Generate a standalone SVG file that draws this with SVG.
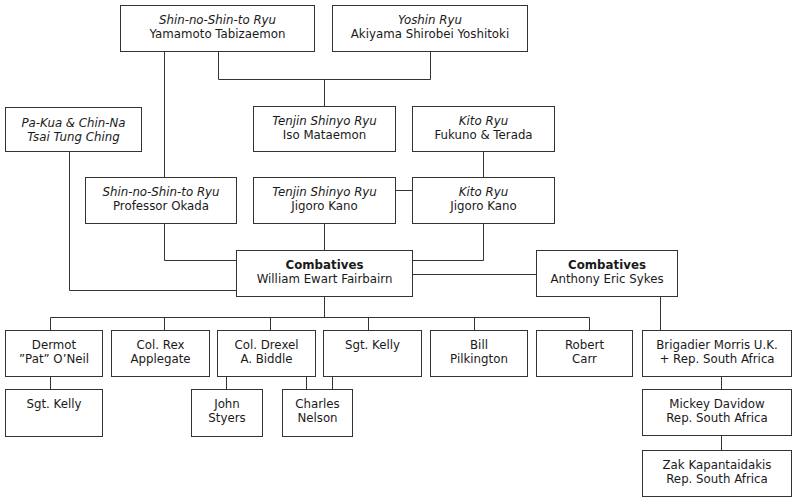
<svg xmlns="http://www.w3.org/2000/svg" width="800" height="503" viewBox="0 0 800 503">
<style>
rect{fill:#fff;stroke:#333;stroke-width:1}
.c path{fill:none;stroke:#333;stroke-width:1}
text{font-family:"DejaVu Sans","Liberation Sans",sans-serif;font-size:11.8px;fill:#1a1a1a;text-anchor:middle}
.i{font-style:italic}
.b{font-weight:bold}
</style>
<rect x="0" y="0" width="800" height="503" style="stroke:none"/>
<g class="c">
<path d="M218.5 51.5V79.5H430.5V51.5"/>
<path d="M324.5 79.5V106.5"/>
<path d="M164.5 51.5V177.5"/>
<path d="M69.5 151.5V290.5H236.5"/>
<path d="M483.5 151.5V177.5"/>
<path d="M395.5 190.5H412.5"/>
<path d="M164.5 223.5V260.5H236.5"/>
<path d="M324.5 223.5V250.5"/>
<path d="M483.5 223.5V260.5H412.5"/>
<path d="M412.5 274.5H536.5"/>
<path d="M660.5 296.5V330.5"/>
<path d="M324.5 296.5V317.5"/>
<path d="M50.5 330.5V317.5H589.5V330.5"/>
<path d="M164.5 317.5V330.5M270.5 317.5V330.5M368.5 317.5V330.5M474.5 317.5V330.5"/>
<path d="M50.5 376.5V389.5M226.5 376.5V389.5M306.5 376.5V389.5M332.5 376.5V389.5"/>
<path d="M721.5 376.5V389.5M721.5 435.5V450.5"/>
</g>
<g id="shin1"><rect x="120.5" y="5.5" width="194" height="46"/><text x="217.5" y="24" class="i">Shin-no-Shin-to Ryu</text><text x="217.5" y="38">Yamamoto Tabizaemon</text></g>
<g id="yoshin"><rect x="332.5" y="5.5" width="195" height="46"/><text x="430" y="24" class="i">Yoshin Ryu</text><text x="430" y="38">Akiyama Shirobei Yoshitoki</text></g>
<g id="pakua"><rect x="5.5" y="107.5" width="136" height="44"/><text x="73.5" y="127" class="i">Pa-Kua &amp; Chin-Na</text><text x="73.5" y="140.5" class="i">Tsai Tung Ching</text></g>
<g id="tenjin1"><rect x="253.5" y="106.5" width="142" height="45"/><text x="324.5" y="125" class="i">Tenjin Shinyo Ryu</text><text x="324.5" y="139">Iso Mataemon</text></g>
<g id="kito1"><rect x="412.5" y="106.5" width="142" height="45"/><text x="483.5" y="125" class="i">Kito Ryu</text><text x="483.5" y="139">Fukuno &amp; Terada</text></g>
<g id="okada"><rect x="85.5" y="177.5" width="151" height="46"/><text x="161" y="196" class="i">Shin-no-Shin-to Ryu</text><text x="161" y="210">Professor Okada</text></g>
<g id="tenjin2"><rect x="253.5" y="177.5" width="142" height="46"/><text x="324.5" y="196" class="i">Tenjin Shinyo Ryu</text><text x="324.5" y="210">Jigoro Kano</text></g>
<g id="kito2"><rect x="412.5" y="177.5" width="142" height="46"/><text x="483.5" y="196" class="i">Kito Ryu</text><text x="483.5" y="210">Jigoro Kano</text></g>
<g id="fairbairn"><rect x="236.5" y="250.5" width="176" height="46"/><text x="324.5" y="269" class="b">Combatives</text><text x="324.5" y="283">William Ewart Fairbairn</text></g>
<g id="sykes"><rect x="536.5" y="250.5" width="141" height="46"/><text x="607" y="269" class="b">Combatives</text><text x="607" y="283">Anthony Eric Sykes</text></g>
<g id="dermot"><rect x="5.5" y="330.5" width="97" height="46"/><text x="54" y="349">Dermot</text><text x="54" y="363">”Pat” O’Neil</text></g>
<g id="rex"><rect x="111.5" y="330.5" width="98" height="46"/><text x="160.5" y="349">Col. Rex</text><text x="160.5" y="363">Applegate</text></g>
<g id="drexel"><rect x="217.5" y="330.5" width="98" height="46"/><text x="266.5" y="349">Col. Drexel</text><text x="266.5" y="363">A. Biddle</text></g>
<g id="kelly"><rect x="323.5" y="330.5" width="98" height="46"/><text x="372.5" y="349">Sgt. Kelly</text></g>
<g id="bill"><rect x="430.5" y="330.5" width="97" height="46"/><text x="479" y="349">Bill</text><text x="479" y="363">Pilkington</text></g>
<g id="robert"><rect x="536.5" y="330.5" width="96" height="46"/><text x="584.5" y="349">Robert</text><text x="584.5" y="363">Carr</text></g>
<g id="brigadier"><rect x="642.5" y="330.5" width="149" height="46"/><text x="717" y="349">Brigadier Morris U.K.</text><text x="717" y="363">+ Rep. South Africa</text></g>
<g id="kelly2"><rect x="5.5" y="389.5" width="97" height="47"/><text x="54" y="408">Sgt. Kelly</text></g>
<g id="john"><rect x="191.5" y="389.5" width="71" height="47"/><text x="227" y="408">John</text><text x="227" y="422">Styers</text></g>
<g id="charles"><rect x="282.5" y="389.5" width="70" height="47"/><text x="317.5" y="408">Charles</text><text x="317.5" y="422">Nelson</text></g>
<g id="mickey"><rect x="642.5" y="389.5" width="149" height="46"/><text x="717" y="408">Mickey Davidow</text><text x="717" y="422">Rep. South Africa</text></g>
<g id="zak"><rect x="642.5" y="450.5" width="149" height="46"/><text x="717" y="469">Zak Kapantaidakis</text><text x="717" y="483">Rep. South Africa</text></g>
</svg>
